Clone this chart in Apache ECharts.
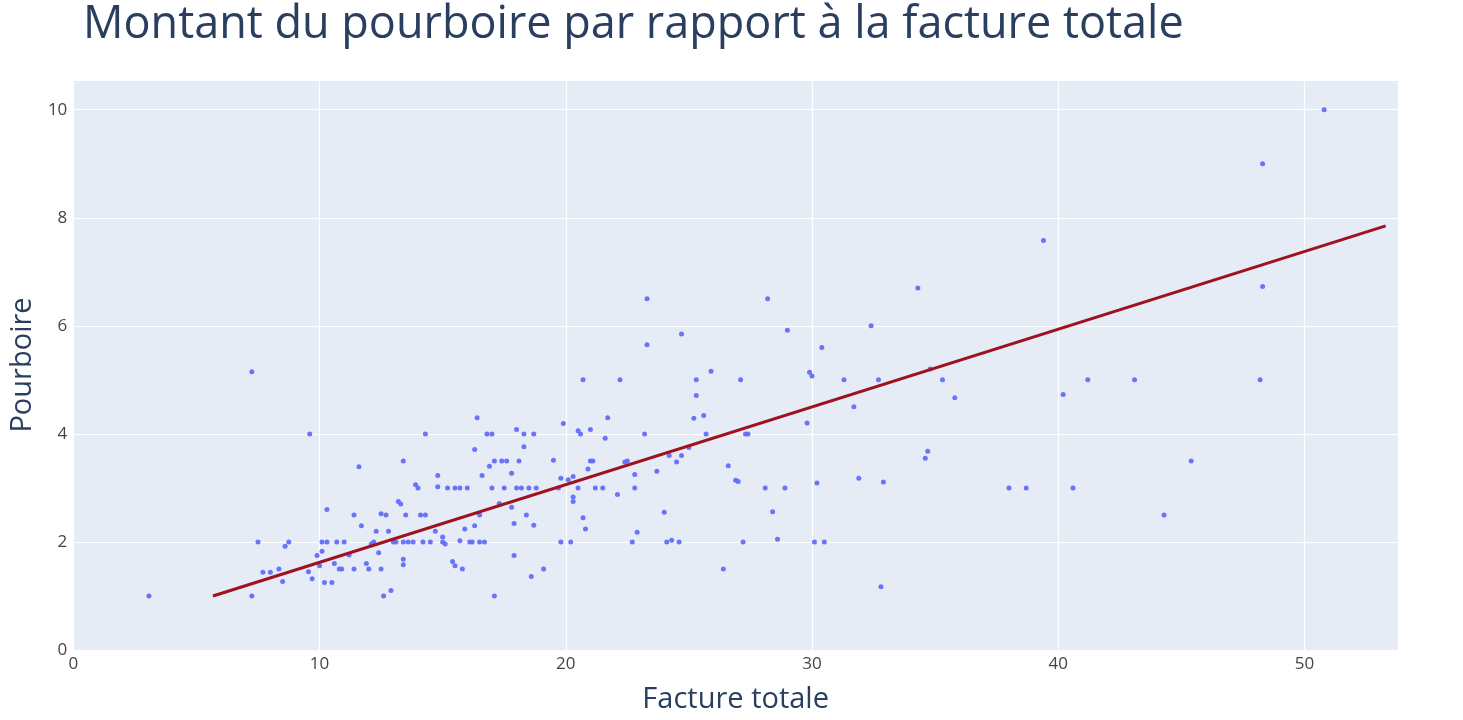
<!DOCTYPE html>
<html>
<head>
<meta charset="utf-8">
<script src="https://cdn.jsdelivr.net/npm/echarts@6/dist/echarts.min.js"></script>
<style>
  html, body { margin: 0; padding: 0; background: #fff; }
  #chart { width: 1463px; height: 720px; }
</style>
</head>
<body>
<div id="chart"></div>
<script>
// facture totale / pourboire
const totalBill = [3.07,7.25,7.25,7.5,7.7,8.0,8.35,8.5,8.6,8.75,9.55,9.6,9.7,9.9,10.0,10.1,10.2,10.1,10.3,10.3,10.5,10.6,10.7,10.8,10.9,11.0,11.2,11.4,11.4,11.6,11.7,11.9,12.0,12.1,12.2,12.3,12.4,12.5,12.5,12.6,12.7,12.8,12.9,13.0,13.1,13.2,13.3,13.4,13.4,13.4,13.4,13.5,13.6,13.8,13.9,14.0,14.1,14.2,14.3,14.3,14.5,14.7,14.8,14.8,15.0,15.0,15.1,15.2,15.4,15.5,15.5,15.7,15.7,15.8,15.9,16.0,16.1,16.2,16.3,16.3,16.4,16.5,16.5,16.6,16.7,16.8,16.9,17.0,17.0,17.1,17.1,17.3,17.4,17.5,17.6,17.8,17.8,17.9,17.9,18.0,18.0,18.1,18.2,18.3,18.3,18.4,18.5,18.6,18.7,18.7,18.8,19.1,19.5,19.7,19.8,19.8,19.9,20.1,20.2,20.3,20.3,20.3,20.5,20.5,20.6,20.7,20.7,20.8,20.9,21.0,21.0,21.1,21.2,21.5,21.6,21.7,22.1,22.2,22.4,22.5,22.7,22.8,22.8,22.9,23.2,23.3,23.3,23.7,24.0,24.1,24.2,24.3,24.5,24.6,24.7,24.7,25.0,25.2,25.3,25.3,25.6,25.7,25.9,26.4,26.6,26.9,27.0,27.1,27.2,27.3,27.4,28.1,28.2,28.4,28.6,28.9,29.0,29.8,29.9,30.0,30.1,30.2,30.4,30.5,31.3,31.7,31.9,32.4,32.7,32.8,32.9,34.3,34.6,34.7,34.8,35.3,35.8,38.0,38.7,39.4,40.2,40.6,41.2,43.1,44.3,45.4,48.2,48.3,48.3,50.8];
const tip = [1.0,5.15,1.0,2.0,1.44,1.44,1.5,1.27,1.92,2.0,1.45,4.0,1.32,1.75,1.56,1.83,1.25,2.0,2.6,2.0,1.25,1.6,2.0,1.5,1.5,2.0,1.76,2.5,1.5,3.39,2.3,1.6,1.5,1.96,2.0,2.2,1.8,2.52,1.5,1.0,2.5,2.2,1.1,2.0,2.0,2.75,2.7,2.0,3.5,1.68,1.58,2.5,2.0,2.0,3.06,3.0,2.5,2.0,2.5,4.0,2.0,2.2,3.23,3.02,2.0,2.09,1.96,3.0,1.64,1.56,3.0,3.0,2.02,1.5,2.24,3.0,2.0,2.0,2.3,3.71,4.3,2.0,2.5,3.23,2.0,4.0,3.4,4.0,3.0,3.5,1.0,2.71,3.5,3.0,3.5,2.64,3.27,1.75,2.34,4.08,3.0,3.5,3.0,3.76,4.0,2.5,3.0,1.36,4.0,2.31,3.0,1.5,3.51,3.0,2.0,3.18,4.19,3.15,2.0,2.83,3.21,2.75,3.0,4.06,4.0,2.45,5.0,2.24,3.35,3.5,4.08,3.5,3.0,3.0,3.92,4.3,2.88,5.0,3.48,3.5,2.0,3.25,3.0,2.18,4.0,6.5,5.65,3.31,2.55,2.0,3.6,2.03,3.48,2.0,3.6,5.85,3.75,4.29,4.71,5.0,4.34,4.0,5.16,1.5,3.41,3.14,3.12,5.0,2.0,4.0,4.0,3.0,6.5,2.56,2.05,3.0,5.92,4.2,5.14,5.07,2.0,3.09,5.6,2.0,5.0,4.5,3.18,6.0,5.0,1.17,3.11,6.7,3.55,3.68,5.2,5.0,4.67,3.0,3.0,7.58,4.73,3.0,5.0,5.0,2.5,3.5,5.0,6.73,9.0,10.0];
// trend line end points
const trendX = [5.67, 53.3];
const trendY = [1.0, 7.85];

const points = totalBill.map((b, i) => [b, tip[i]]);
const trend = trendX.map((x, i) => [x, trendY[i]]);

const chart = echarts.init(document.getElementById('chart'));
const font = 'Open Sans';
const ink = '#2a3f5f';

chart.setOption({
    backgroundColor: '#fff',
    textStyle: { fontFamily: font },
    title: {
        text: 'Montant du pourboire par rapport à la facture totale',
        left: 78, top: -2,
        textStyle: { fontFamily: font, fontSize: 45, fontWeight: 'normal', color: ink }
    },
    grid: { left: 68, right: 65, top: 80, bottom: 70, show: true, backgroundColor: '#e5ecf6', borderWidth: 0 },
    xAxis: {
        type: 'value', min: 0, max: 53.8, interval: 10,
        name: 'Facture totale', nameLocation: 'middle', nameGap: 35,
        nameTextStyle: { fontSize: 29, color: ink },
        axisLine: { show: false }, axisTick: { show: false },
        axisLabel: { fontSize: 17, color: '#444', margin: 6, showMaxLabel: false },
        splitLine: { lineStyle: { color: '#fff', width: 1.2 } }
    },
    yAxis: {
        type: 'value', min: 0, max: 10.55, interval: 2,
        name: 'Pourboire', nameLocation: 'middle', nameGap: 32,
        nameTextStyle: { fontSize: 29, color: ink },
        axisLine: { show: false }, axisTick: { show: false },
        axisLabel: { fontSize: 17, color: '#444', margin: 6, showMaxLabel: false },
        splitLine: { lineStyle: { color: '#fff', width: 1.2 } }
    },
    series: [
        {
            type: 'scatter', data: points, symbolSize: 5,
            itemStyle: { color: '#636efa', opacity: 0.95 }
        },
        {
            type: 'line', data: trend, symbol: 'none',
            lineStyle: { color: '#a0111f', width: 3 }
        }
    ]
});
</script>
</body>
</html>
